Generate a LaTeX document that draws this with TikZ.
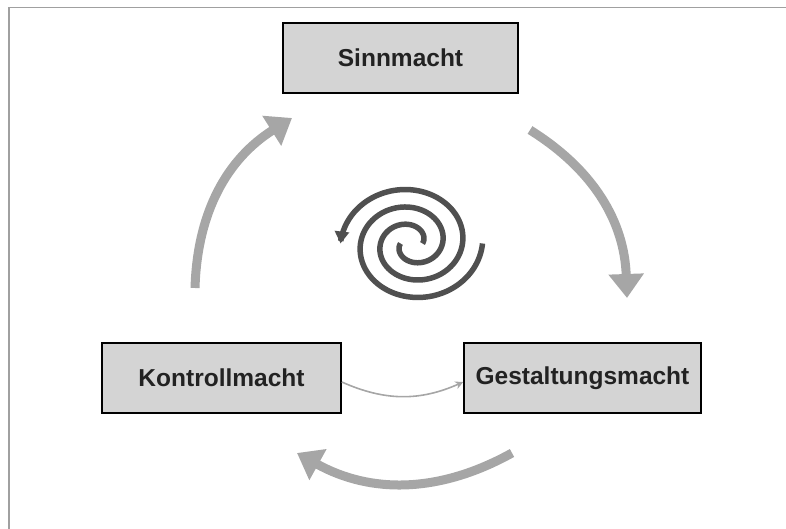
\documentclass[tikz,border=0pt]{standalone}
\usepackage{fontspec}
\setmainfont{Liberation Sans}
\usetikzlibrary{arrows.meta}
\definecolor{arrowgray}{RGB}{166,166,166}
\definecolor{boxfill}{RGB}{212,212,212}
\definecolor{framegray}{RGB}{160,160,160}
\definecolor{spiralgray}{RGB}{80,80,80}
\definecolor{textdark}{RGB}{34,34,34}
\tikzset{
  box/.style={draw=black, line width=1.6pt, fill=boxfill, minimum height=70pt, inner sep=0pt, text=textdark, font=\fontsize{24.5}{28}\selectfont\bfseries},
  bigarrow/.style={draw=arrowgray, line width=9pt, -{Triangle[length=24pt,width=34pt]}},
  thinarrow/.style={draw=arrowgray, line width=1.6pt, -{Stealth[length=8pt,width=8pt]}},
  spiralline/.style={draw=spiralgray, line width=5.5pt}
}
\begin{document}
\begin{tikzpicture}[x=1pt,y=1pt]
\useasboundingbox (0,0) rectangle (786,529);
% frame
\draw[framegray, line width=1.5pt] (9,0) -- (9,521.5) -- (786,521.5);
% boxes
\node[box, minimum width=235pt] (S) at (400.5,471) {Sinnmacht};
\node[box, minimum width=239pt] (K) at (221.5,151) {Kontrollmacht};
\node[box, minimum width=237pt] (G) at (582.5,151) {Gestaltungsmacht};
% big arrows
\coordinate (la) at (195,241);
\coordinate (lb) at (292,411);
\coordinate (ra) at (530,399);
\coordinate (rb) at (627,231);
\coordinate (ba) at (512,76);
\coordinate (bb) at (297,76);
\draw[bigarrow] (la) to[bend left=28] (lb);
\draw[bigarrow] (ra) to[bend left=28] (rb);
\draw[bigarrow] (ba) to[bend left=29] (bb);
% thin connector
\draw[thinarrow] ([yshift=-4pt]K.east) to[bend right=24] ([yshift=-4pt]G.west);
% double spiral
\draw[spiralline, -{Triangle[length=12pt,width=14pt]}] plot[domain=0:540, samples=200, smooth, variable=\t]
  ({411.5+(11+\t/9)*cos(\t)}, {285.5+0.88*(11+\t/9)*sin(\t)});
\draw[spiralline] plot[domain=0:540, samples=200, smooth, variable=\t]
  ({411.5-(11+\t/9)*cos(\t)}, {285.5-0.88*(11+\t/9)*sin(\t)});
\end{tikzpicture}
\end{document}
